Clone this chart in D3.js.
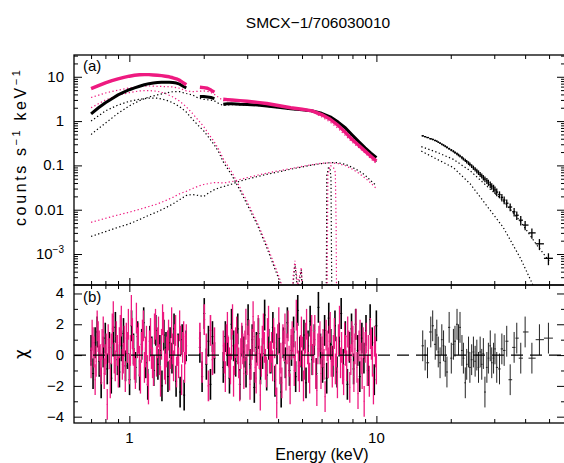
<!DOCTYPE html>
<html><head><meta charset="utf-8">
<script src="https://cdn.jsdelivr.net/npm/d3@7"></script>
<style>
body{margin:0;background:#fff;}
svg{display:block;font-family:"Liberation Sans",Arial,sans-serif;}
</style></head><body>
<svg id="c" width="564" height="463"></svg>
<script>
// ---------------- DATA ----------------
const title = "SMCX\u22121/706030010";
const xMajorTicks = [1, 10];
const xMajorLabels = ["1", "10"];
const xMinorTicks = [0.7,0.8,0.9,2,3,4,5,6,7,8,9,20,30,40,50];
const yTopMajor = [1e-3, 0.01, 0.1, 1, 10];
const yTopLabels = ["10^\u22123", "0.01", "0.1", "1", "10"];
const yTopMinor = [3e-4,4e-4,5e-4,6e-4,7e-4,8e-4,9e-4,2e-3,3e-3,4e-3,5e-3,6e-3,7e-3,8e-3,9e-3,
  0.02,0.03,0.04,0.05,0.06,0.07,0.08,0.09,0.2,0.3,0.4,0.5,0.6,0.7,0.8,0.9,2,3,4,5,6,7,8,9,20,30];
const yBotMajor = [-4,-2,0,2,4];
const yBotLabels = ["\u22124","\u22122","0","2","4"];
const yBotMinor = [-3,-1,1,3];

// XIS spectra (counts s^-1 keV^-1), three energy segments
const xisSeg1E = [0.70,0.75,0.80,0.85,0.90,0.95,1.00,1.05,1.10,1.15,1.20,1.25,1.30,1.35,1.40,1.45,1.50,1.55,1.60,1.65,1.70];
const blackSeg1 = [1.45,2.0,2.6,3.2,3.9,4.5,5.1,5.6,6.1,6.6,7.0,7.2,7.4,7.5,7.5,7.5,7.4,7.2,6.8,6.1,5.6];
const pinkSeg1  = [5.4,6.3,7.3,8.2,9.0,9.7,10.3,10.8,11.1,11.2,11.2,11.0,10.8,10.6,10.3,10.0,9.5,9.0,8.3,7.4,6.6];
const xisSeg2E = [1.93,2.00,2.07,2.14,2.21];
const blackSeg2 = [3.6,3.6,3.5,3.4,3.2];
const pinkSeg2  = [5.8,5.7,5.5,5.0,4.5];
const xisSeg3E = [2.4,2.5,2.6,2.8,3.0,3.3,3.6,4.0,4.5,5.0,5.5,6.0,6.5,7.0,7.5,8.0,8.5,9.0,9.5,10.0];
const blackSeg3 = [2.4,2.45,2.45,2.4,2.38,2.3,2.2,2.05,1.9,1.8,1.7,1.5,1.25,0.95,0.7,0.48,0.34,0.25,0.19,0.15];
const pinkSeg3  = [3.1,3.05,3.0,2.9,2.8,2.65,2.5,2.25,2.0,1.85,1.7,1.4,1.1,0.8,0.55,0.38,0.28,0.21,0.16,0.125];

// model components (dotted)
const compE = [0.7,0.8,0.9,1.0,1.1,1.2,1.3,1.4,1.5,1.6,1.7,1.8,1.9,2.0,2.1,2.2,2.3,2.4,2.6,2.8,3.0,3.3,3.6,4.0,4.5,5.0,5.5,6.0,6.5,7.0,7.5,8.0,8.5,9.0,9.5,10.0];
const blackSoft = [1.0,1.7,2.3,2.8,3.1,3.3,3.3,3.0,2.6,2.1,1.6,1.1,0.8,0.6,0.42,0.3,0.2,0.12,0.06,0.028,0.013,0.0045,0.0014,0.0003,0.00005,0.00001,0.000001,0.0000001,0.0000001,0.0000001,0.0000001,0.0000001,0.0000001,0.0000001,0.0000001,0.0000001];
const pinkSoft  = [2.0,3.0,3.8,4.4,4.8,4.9,4.7,4.2,3.5,2.8,2.1,1.5,1.05,0.75,0.5,0.35,0.23,0.14,0.07,0.032,0.015,0.005,0.0016,0.00035,0.00005,0.00001,0.000001,0.0000001,0.0000001,0.0000001,0.0000001,0.0000001,0.0000001,0.0000001,0.0000001,0.0000001];
const blackHard = [0.5,0.9,1.5,2.2,2.9,3.5,3.9,4.3,4.6,4.6,4.2,3.9,3.3,3.1,3.0,2.9,2.5,2.25,2.35,2.33,2.3,2.25,2.15,2.0,1.85,1.75,1.6,1.35,1.1,0.82,0.6,0.41,0.3,0.22,0.16,0.12];
const pinkHard  = [3.4,4.3,5.0,5.6,6.0,6.2,6.1,6.0,5.9,5.5,4.8,4.6,4.7,4.8,4.6,4.1,3.4,2.9,2.9,2.85,2.75,2.6,2.45,2.2,1.95,1.8,1.6,1.25,0.95,0.68,0.47,0.33,0.25,0.19,0.14,0.11];
const blackThird = [0.0025,0.0032,0.004,0.0048,0.006,0.0075,0.009,0.011,0.0135,0.017,0.021,0.022,0.021,0.02,0.024,0.028,0.031,0.033,0.038,0.044,0.049,0.056,0.063,0.071,0.082,0.092,0.102,0.11,0.115,0.115,0.105,0.09,0.075,0.06,0.045,0.035];
const pinkThird  = [0.0052,0.0064,0.0076,0.0088,0.0102,0.0118,0.0135,0.016,0.019,0.023,0.026,0.03,0.034,0.037,0.039,0.041,0.041,0.04,0.043,0.048,0.053,0.06,0.067,0.075,0.085,0.095,0.104,0.112,0.114,0.11,0.098,0.082,0.066,0.052,0.04,0.03];
const blackLineE = [6.20,6.25,6.28,6.30,6.40,6.50,6.55,6.58,6.62,6.70];
const blackLine  = [0.0000001,0.00001,0.001,0.06,0.09,0.08,0.05,0.001,0.00001,0.0000001];
const pinkLineE  = [6.25,6.30,6.33,6.36,6.50,6.70,6.82,6.87,6.90,6.95,7.00];
const pinkLine   = [0.0000001,0.00001,0.001,0.06,0.1,0.09,0.07,0.005,0.0001,0.000001,0.0000001];
const bumpE = [4.5,4.6,4.68,4.8,4.97,5.1];
const blackBump = [0.00001,0.0002,0.0006,0.00015,0.00045,0.00001];
const pinkBump  = [0.00001,0.0003,0.0007,0.0002,0.0005,0.00001];

// HXD-PIN spectrum
const pinE = [15.4,15.75,16.1,16.6,16.9,17.3,17.56,17.8,18.1,18.4,18.7,19.0,19.3,19.7,20.1,20.5,20.8,21.2,21.5,21.8,
  22.2,22.5,22.9,23.2,23.6,23.9,24.3,24.7,25.1,25.5,25.9,26.3,26.7,27.1,27.5,28.0,28.4,28.9,29.3,29.8,
  30.2,30.7,31.5,32.2,32.9,33.7,34.8,36.1,37.0,38.4,40.0,42.6,45.7,49.7];
const pinFlux = [0.465,0.445,0.425,0.40,0.385,0.365,0.352,0.335,0.318,0.30,0.285,0.27,0.255,0.238,0.222,0.208,0.195,0.183,0.172,0.162,
  0.150,0.140,0.130,0.122,0.113,0.106,0.097,0.089,0.082,0.075,0.069,0.063,0.058,0.053,0.049,0.045,0.041,0.037,0.034,0.031,
  0.028,0.025,0.022,0.019,0.0165,0.014,0.0115,0.009,0.0075,0.0058,0.0045,0.003,0.0017,0.0008];
const pinRelErr = [0.03,0.03,0.03,0.035,0.035,0.04,0.04,0.04,0.045,0.045,0.05,0.05,0.055,0.055,0.06,0.06,0.065,0.07,0.07,0.075,
  0.08,0.08,0.085,0.09,0.095,0.1,0.1,0.11,0.11,0.12,0.12,0.13,0.13,0.14,0.15,0.15,0.16,0.17,0.17,0.18,
  0.19,0.2,0.18,0.19,0.2,0.21,0.2,0.22,0.22,0.24,0.24,0.26,0.28,0.3];
const pinCompE = [15.2,17.5,20.5,24,28,32.6,38.3,44.6,50];
const pinHard  = [0.265,0.2,0.137,0.075,0.034,0.016,0.0054,0.0016,0.0007];
const pinThird = [0.21,0.14,0.089,0.038,0.0122,0.004,0.0008,0.00013,0.00004];

// residuals (chi) -- black XIS bins
const blackResE1 = [0.700,0.713,0.727,0.741,0.755,0.769,0.784,0.799,0.814,0.830,0.845,0.861,0.878,0.895,0.912,0.929,0.947,0.965,0.983,1.002,
  1.021,1.040,1.060,1.080,1.101,1.122,1.143,1.165,1.187,1.210,1.233,1.256,1.280,1.305,1.329,1.355,1.380,1.407,1.433,1.461,
  1.488,1.517,1.546,1.575,1.605,1.636,1.667,1.698];
const blackRes1 = [0.3,-1.2,0.8,1.5,-0.4,-1.8,0.2,1.1,-0.9,0.5,-1.5,0.9,1.8,-0.3,-1.1,0.6,1.4,-0.7,0.1,-1.6,
  1.9,0.4,-0.8,1.2,-1.3,0.7,2.1,-0.5,-1.9,0.9,0.2,-1.0,1.6,-0.6,0.3,-2.0,1.3,0.5,-1.4,0.8,-0.2,1.7,-1.7,0.4,-2.4,1.0,-2.6,0.6];
const resE2 = [1.93,1.97,2.01,2.05,2.09,2.13,2.17,2.21];
const blackRes2 = [0.5,-1.4,2.7,-0.6,0.9,-1.9,1.2,-0.2];
const pinkRes2 = [1.1,-0.8,2.3,0.4,-2.0,1.6,-0.3,0.8];
const blackResE3 = [2.400,2.447,2.494,2.543,2.592,2.643,2.694,2.747,2.800,2.855,2.910,2.967,3.025,3.083,3.143,3.205,3.267,3.331,3.395,3.461,
  3.529,3.597,3.667,3.739,3.811,3.886,3.961,4.038,4.117,4.197,4.279,4.362,4.447,4.534,4.622,4.712,4.804,4.897,4.993,5.090,
  5.189,5.290,5.393,5.498,5.605,5.714,5.825,5.939,6.054,6.172,6.293,6.415,6.540,6.667,6.797,6.929,7.064,7.202,7.342,7.485,
  7.631,7.779,7.931,8.085,8.243,8.403,8.567,8.734,8.904,9.077,9.254,9.434,9.618,9.805,9.996];
const blackRes3 = [-0.8,1.2,0.3,-1.5,2.0,0.6,-0.4,1.7,-1.9,0.9,0.2,-1.1,2.3,-0.6,1.0,-2.1,0.5,1.4,-0.9,0.1,
  2.6,-1.3,0.7,-0.2,1.8,-1.7,0.4,1.1,-2.4,0.8,-0.5,2.1,-1.0,0.3,1.5,-1.4,2.9,0.2,-0.7,1.3,
  -1.8,0.6,2.2,-0.3,1.0,-1.2,3.1,0.4,-0.8,1.6,-1.5,2.4,0.7,-0.4,1.9,-1.1,0.9,2.7,-0.6,1.2,
  -1.9,0.5,1.7,-0.9,2.0,0.3,-1.4,1.1,-0.2,1.6,-1.0,2.3,0.8,-1.6,1.9];
// pink XIS bins (finer grouping)
const pinkResE1 = [0.700,0.707,0.713,0.720,0.727,0.734,0.741,0.748,0.755,0.762,0.769,0.776,0.784,0.791,0.798,0.806,0.814,0.821,0.829,0.837,
  0.845,0.853,0.861,0.869,0.877,0.885,0.894,0.902,0.911,0.919,0.928,0.937,0.945,0.954,0.963,0.972,0.982,0.991,1.000,1.010,
  1.019,1.029,1.038,1.048,1.058,1.068,1.078,1.088,1.098,1.109,1.119,1.130,1.140,1.151,1.162,1.173,1.184,1.195,1.206,1.218,
  1.229,1.241,1.252,1.264,1.276,1.288,1.300,1.312,1.325,1.337,1.350,1.363,1.375,1.388,1.401,1.415,1.428,1.441,1.455,1.469,
  1.483,1.496,1.510,1.525,1.539,1.553,1.568,1.583,1.598,1.613,1.628,1.643,1.659,1.674,1.687,1.700];
const pinkRes1 = [-0.5,1.3,0.8,0.2,-1.6,-0.4,1.9,1.2,0.6,-0.3,-0.9,0.7,1.5,-1.2,-0.3,0.4,-3.2,1.0,0.1,-1.8,
  0.4,1.7,2.5,-0.2,-0.7,1.2,0.3,-1.1,0.8,1.6,2.2,-0.6,-0.2,0.9,-1.4,1.1,0.5,2.0,-0.9,0.3,
  2.9,1.4,0.3,-0.6,-1.2,2.4,0.8,1.1,-0.4,-1.5,0.5,1.3,1.9,-0.8,0.2,0.9,-1.0,-2.2,0.6,1.4,
  0.1,-0.5,-1.0,1.7,2.0,-0.4,0.8,1.5,-0.3,-1.7,0.7,2.3,1.8,-0.6,-0.9,0.2,0.6,1.3,-1.3,0.1,
  2.1,0.4,-0.7,1.0,1.6,-1.1,0.3,-0.5,1.9,0.9,-1.6,0.5,1.2,-0.8,0.4,1.0];
const pinkResE3 = [2.400,2.423,2.446,2.470,2.494,2.518,2.542,2.567,2.591,2.616,2.641,2.667,2.692,2.718,2.745,2.771,2.798,2.825,2.852,2.879,
  2.907,2.935,2.963,2.992,3.021,3.050,3.079,3.109,3.139,3.169,3.199,3.230,3.261,3.293,3.324,3.356,3.389,3.421,3.454,3.488,
  3.521,3.555,3.589,3.624,3.659,3.694,3.730,3.766,3.802,3.838,3.875,3.913,3.950,3.988,4.027,4.066,4.105,4.144,4.184,4.225,
  4.265,4.306,4.348,4.390,4.432,4.475,4.518,4.561,4.605,4.650,4.694,4.740,4.785,4.831,4.878,4.925,4.972,5.020,5.069,5.117,
  5.167,5.216,5.267,5.317,5.369,5.420,5.473,5.525,5.578,5.632,5.686,5.741,5.797,5.852,5.909,5.966,6.023,6.081,6.140,6.199,
  6.259,6.319,6.380,6.441,6.503,6.566,6.629,6.693,6.758,6.823,6.889,6.955,7.022,7.090,7.158,7.227,7.297,7.367,7.438,7.510,
  7.582,7.655,7.729,7.803,7.878,7.954,8.031,8.108,8.186,8.265,8.345,8.425,8.506,8.588,8.671,8.755,8.839,8.924,9.010,9.097,
  9.184,9.273,9.362,9.452,9.543,9.635,9.728,9.822,9.916,10.00];
const pinkRes3 = [0.6,-0.2,-1.4,1.0,1.8,0.2,-0.5,-0.9,0.7,2.3,-1.7,-0.3,0.8,1.5,0.4,-0.5,-2.0,0.1,1.1,0.4,
  -1.2,0.6,2.0,-0.3,0.9,1.3,-1.9,-0.6,0.7,2.5,1.2,-0.8,-1.5,0.3,1.6,0.1,-2.6,-0.4,0.9,1.7,
  0.5,-0.6,-1.1,1.4,2.2,-0.2,-0.1,0.5,-0.7,1.4,0.8,-1.6,-3.1,1.0,2.1,-0.9,-0.2,-1.8,1.0,0.6,
  1.7,-1.3,0.4,1.9,-0.4,-2.2,0.7,1.2,0.8,-1.0,-0.1,2.6,1.1,-0.7,-1.4,0.3,1.5,0.2,-2.0,-0.6,
  1.1,2.0,0.4,-0.8,-1.5,0.9,1.6,-0.3,0.5,1.6,-1.2,-2.3,0.4,0.9,1.2,-1.2,0.2,0.7,-0.6,-2.7,
  1.3,0.6,-0.5,0.9,1.8,-0.4,-1.1,0.3,1.4,-0.9,0.2,-1.8,1.0,2.2,-0.5,0.5,-0.9,-1.6,1.1,0.3,
  -0.7,1.5,0.6,-2.1,-0.3,1.2,0.9,-1.4,0.4,2.0,-0.8,-2.5,0.6,1.3,-0.2,-1.2,0.8,-3.0,0.5,1.1,
  -1.0,0.3,-1.7,1.4,0.7,-0.4,-2.2,0.9,0.2,-0.9];
const pinRes = [0.6,0,-0.5,1.5,1.9,0.7,1.3,0.2,-0.5,1.0,0.6,-0.4,-1.1,1.8,-0.2,0.7,0.9,2.0,1.0,1.8,
  0.3,-0.2,-1.8,-0.6,0.2,-0.8,-0.3,0.2,-0.4,0,-0.8,0.2,-0.6,0.1,-2.4,-0.8,-0.2,0.6,-0.5,-0.2,
  0.4,-0.8,-0.9,0.4,0.3,0.9,-1.6,0.5,1.1,-0.2,1.5,-0.2,1.0,1.1];

// ---------------- DRAW ----------------
const BLACK = "#000", PINK = "#ee1a80";
const L = 74, R = 565, T1 = 55, B1 = 285, T2 = 285, B2 = 423;
const svg = d3.select("#c");
const x = d3.scaleLog().domain([0.597, 58]).range([L, R]);
const yT = d3.scaleLog().domain([2.0e-4, 31]).range([B1, T1]);
const yB = d3.scaleLinear().domain([-4.41, 4.55]).range([B2, T2]);

const defs = svg.append("defs");
defs.append("clipPath").attr("id","ct").append("rect").attr("x",L).attr("y",T1).attr("width",R-L).attr("height",B1-T1);
defs.append("clipPath").attr("id","cb").append("rect").attr("x",L).attr("y",T2).attr("width",R-L).attr("height",B2-T2);

const gT = svg.append("g").attr("clip-path","url(#ct)");
const gB = svg.append("g").attr("clip-path","url(#cb)");

const lineT = d3.line().x(d => x(d[0])).y(d => yT(d[1]));
const zip = (E, V) => E.map((e, i) => [e, V[i]]);

function dotted(E, V, color) {
  gT.append("path").datum(zip(E, V)).attr("d", lineT).attr("fill","none")
    .attr("stroke", color).attr("stroke-width", 1.2).attr("stroke-dasharray","1.3,2.4");
}
dotted(compE, blackThird, BLACK);
dotted(compE, pinkThird, PINK);
dotted(compE, blackSoft, BLACK);
dotted(compE, pinkSoft, PINK);
dotted(compE, blackHard, BLACK);
dotted(compE, pinkHard, PINK);
dotted(blackLineE, blackLine, BLACK);
dotted(pinkLineE, pinkLine, PINK);
dotted(bumpE, blackBump, BLACK);
dotted(bumpE, pinkBump, PINK);
dotted(pinCompE, pinHard, BLACK);
dotted(pinCompE, pinThird, BLACK);

function band(E, V, color, w) {
  gT.append("path").datum(zip(E, V)).attr("d", lineT).attr("fill","none")
    .attr("stroke", color).attr("stroke-width", w).attr("stroke-linejoin","round");
}
band(xisSeg1E, blackSeg1, BLACK, 3);
band(xisSeg2E, blackSeg2, BLACK, 3);
band(xisSeg3E, blackSeg3, BLACK, 3);
band(xisSeg1E, pinkSeg1, PINK, 3.4);
band(xisSeg2E, pinkSeg2, PINK, 3.4);
band(xisSeg3E, pinkSeg3, PINK, 3.4);

function edges(E) {
  return E.map((e, i) => {
    const lo = i > 0 ? Math.sqrt(E[i-1]*e) : e*e/Math.sqrt(E[i+1]*e);
    const hi = i < E.length-1 ? Math.sqrt(E[i+1]*e) : e*e/Math.sqrt(E[i-1]*e);
    return [lo, hi];
  });
}
const pinEd = edges(pinE);
pinE.forEach((e, i) => {
  const v = pinFlux[i], er = pinRelErr[i];
  gT.append("line").attr("x1", x(pinEd[i][0])).attr("x2", x(pinEd[i][1]))
    .attr("y1", yT(v)).attr("y2", yT(v)).attr("stroke", BLACK).attr("stroke-width", 1.3);
  gT.append("line").attr("x1", x(e)).attr("x2", x(e))
    .attr("y1", yT(v*(1-er))).attr("y2", yT(v*(1+er))).attr("stroke", BLACK).attr("stroke-width", 1.3);
});

function resid(E, V, color, w) {
  const ed = edges(E);
  E.forEach((e, i) => {
    gB.append("line").attr("x1", x(e)).attr("x2", x(e))
      .attr("y1", yB(V[i]-1)).attr("y2", yB(V[i]+1)).attr("stroke", color).attr("stroke-width", w);
    gB.append("line").attr("x1", x(ed[i][0])).attr("x2", x(ed[i][1]))
      .attr("y1", yB(V[i])).attr("y2", yB(V[i])).attr("stroke", color).attr("stroke-width", 1);
  });
}
resid(blackResE1, blackRes1, BLACK, 1.6);
resid(resE2, blackRes2, BLACK, 1.6);
resid(blackResE3, blackRes3, BLACK, 1.6);
resid(pinkResE1, pinkRes1, PINK, 1.3);
resid(resE2, pinkRes2, PINK, 1.6);
resid(pinkResE3, pinkRes3, PINK, 1.3);
resid(pinE, pinRes, "#222", 1);

gB.append("line").attr("x1", L).attr("x2", R).attr("y1", yB(0)).attr("y2", yB(0))
  .attr("stroke", BLACK).attr("stroke-width", 1.2).attr("stroke-dasharray","12,7");

// ---------------- AXES ----------------
function tickAxis(axisFn, scale, vals, size, tx, ty) {
  const g = svg.append("g").attr("transform", `translate(${tx},${ty})`)
    .call(axisFn(scale).tickValues(vals).tickSize(size).tickSizeOuter(0).tickFormat(""));
  g.select(".domain").remove();
  g.selectAll(".tick line").attr("stroke", BLACK).attr("stroke-width", 1);
  return g;
}
[[d3.axisTop, T1], [d3.axisBottom, B1], [d3.axisTop, T2], [d3.axisBottom, B2]].forEach(([fn, yy]) => {
  tickAxis(fn, x, xMajorTicks, -7, 0, yy);
  tickAxis(fn, x, xMinorTicks, -4, 0, yy);
});
tickAxis(d3.axisLeft, yT, yTopMajor, -8, L, 0);
tickAxis(d3.axisLeft, yT, yTopMinor, -4, L, 0);
tickAxis(d3.axisRight, yT, yTopMajor, -8, R, 0);
tickAxis(d3.axisRight, yT, yTopMinor, -4, R, 0);
tickAxis(d3.axisLeft, yB, yBotMajor, -8, L, 0);
tickAxis(d3.axisLeft, yB, yBotMinor, -4, L, 0);
tickAxis(d3.axisRight, yB, yBotMajor, -8, R, 0);
tickAxis(d3.axisRight, yB, yBotMinor, -4, R, 0);

svg.append("rect").attr("x", L).attr("y", T1).attr("width", R-L).attr("height", B1-T1)
  .attr("fill","none").attr("stroke", BLACK).attr("stroke-width", 1.3);
svg.append("rect").attr("x", L).attr("y", T2).attr("width", R-L).attr("height", B2-T2)
  .attr("fill","none").attr("stroke", BLACK).attr("stroke-width", 1.3);

const FS = 15;
function supText(g, str, xx, yy, anchor) {
  const t = g.append("text").attr("x", xx).attr("y", yy).attr("text-anchor", anchor)
    .attr("font-size", FS).attr("fill", BLACK);
  const parts = str.split("^");
  t.append("tspan").text(parts[0]);
  if (parts[1]) t.append("tspan").attr("dy", -6).attr("font-size", 10).text(parts[1]);
  return t;
}
yTopMajor.forEach((v, i) => supText(svg, yTopLabels[i], 64, yT(v) + 5, "end"));
yBotMajor.forEach((v, i) => supText(svg, yBotLabels[i], 64, yB(v) + 5, "end"));
xMajorTicks.forEach((v, i) => supText(svg, xMajorLabels[i], x(v), 443, "middle"));

svg.append("text").attr("x", 318).attr("y", 28).attr("text-anchor","middle")
  .attr("font-size", 15.5).text(title);
svg.append("text").attr("x", 322).attr("y", 460).attr("text-anchor","middle")
  .attr("font-size", 16).text("Energy (keV)");
svg.append("text").attr("x", 83).attr("y", 71).attr("font-size", FS).text("(a)");
svg.append("text").attr("x", 83).attr("y", 302).attr("font-size", FS).text("(b)");

const yl = svg.append("text").attr("transform", "translate(26,148) rotate(-90)")
  .attr("text-anchor","middle").attr("font-size", 16)
  .attr("textLength", 156).attr("lengthAdjust", "spacing");
yl.append("tspan").text("counts s");
yl.append("tspan").attr("dy", -6).attr("font-size", 11).text("\u22121");
yl.append("tspan").attr("dy", 6).text(" keV");
yl.append("tspan").attr("dy", -6).attr("font-size", 11).text("\u22121");

svg.append("text").attr("transform", "translate(27,354) rotate(-90)")
  .attr("text-anchor","middle").attr("font-size", 17)
  .attr("font-family", "'DejaVu Sans', sans-serif").text("\u03c7");
</script></body></html>
